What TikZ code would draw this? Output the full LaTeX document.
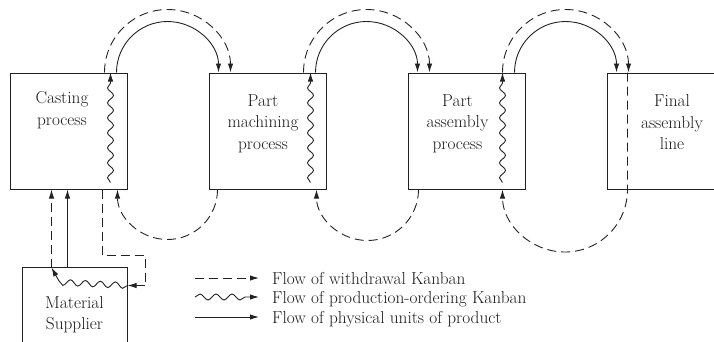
\documentclass[tikz,border=0pt]{standalone}
\usetikzlibrary{arrows.meta,decorations.pathmorphing,calc}
\definecolor{ink}{HTML}{222222}
\definecolor{txt}{HTML}{1A1A1A}
\begin{document}
\begin{tikzpicture}[x=1pt,y=-1pt,
  ln/.style={line width=0.9pt, draw=ink},
  box/.style={draw=ink, line width=1pt, inner sep=0pt, minimum width=117pt, minimum height=116pt},
  lbl/.style={inner sep=0pt, anchor=north, align=center, text=txt, font=\fontsize{17.3}{21.5}\selectfont},
  legtxt/.style={inner sep=0pt, anchor=base west, text=txt, font=\fontsize{17.3}{19.5}\selectfont},
  wd/.style={ln, dash pattern=on 9pt off 5pt},
  tip/.style={-{Latex[length=9pt,width=5.4pt]}},
  wave/.style={ln, decorate, decoration={snake, segment length=15pt, amplitude=3pt, post length=8pt}},
]
\clip (0,0) rectangle (714,341);
\useasboundingbox (0,0) rectangle (714,341);

% process boxes
\node[box] (cast) at (68.5,131) {};
\node[box] (mach) at (267.5,131) {};
\node[box] (asm)  at (466.5,131) {};
\node[box] (fin)  at (665.5,131) {};
\node[box, minimum width=105pt, minimum height=100pt] (sup) at (74.5,317) {};

% box labels
\node[lbl] (castT) at (62,91.5)  {Casting\\process};
\node[lbl] (machT) at (263,94)   {Part\\machining\\process};
\node[lbl] (asmT)  at (457.5,94) {Part\\assembly\\process};
\node[lbl] (finT)  at (672,94.5) {Final\\assembly\\line};
\node[lbl] (supT)  at (74.5,296) {Material\\Supplier};

% upper arcs: physical units (solid) and withdrawal Kanban (dashed)
\draw[ln, tip] ([xshift=-11pt]cast.north east) arc[start angle=180, end angle=360, radius=51];
\draw[wd, tip] ([xshift=-23pt]cast.north east) arc[start angle=180, end angle=360, radius=63];
\draw[ln, tip] ([xshift=-11pt]mach.north east) arc[start angle=180, end angle=360, radius=51];
\draw[wd, tip] ([xshift=-23pt]mach.north east) arc[start angle=180, end angle=360, radius=63];
\draw[ln, tip] ([xshift=-11pt]asm.north east) arc[start angle=180, end angle=360, radius=51];
\draw[wd, tip] ([xshift=-23pt]asm.north east) arc[start angle=180, end angle=360, radius=63];

% lower dashed arcs
\draw[wd, tip] ([xshift=9pt]mach.south west) arc[start angle=0, end angle=180, radius=50];
\draw[wd, tip] ([xshift=11pt]asm.south west) arc[start angle=0, end angle=180, radius=51];
\draw[wd, tip] ([xshift=21pt]fin.north west) -- ([xshift=21pt]fin.south west)
  arc[start angle=0, end angle=180, radius=62.5];

% production-ordering Kanban inside the boxes
\draw[wave, tip] ([shift={(-17,-7)}]cast.south east) -- ([xshift=-17pt]cast.north east);
\draw[wave, tip] ([shift={(-16,-7)}]mach.south east) -- ([xshift=-16pt]mach.north east);
\draw[wave, tip] ([shift={(-23,-7)}]asm.south east)  -- ([xshift=-23pt]asm.north east);

% supplier links
\coordinate (wtip) at ($(sup.north west)+(30,1)$);
\coordinate (kin)  at ($(sup.north east)+(0,19)$);
\coordinate (sfoot) at ($(sup.north west)+(46,0)$);
\draw[wd, tip] (wtip) -- (wtip |- cast.south);
\draw[ln, tip] (sfoot) -- (sfoot |- cast.south);
\draw[wd, tip] ([xshift=-25pt]cast.south east) -- ++(0,66) -- ++(43,0) |- (kin);
\draw[wave, tip, decoration={post length=10pt}] (kin) -- ($(wtip)+(14,15)$)
  .. controls ($(wtip)+(7,14)$) and ($(wtip)+(4,8)$) .. (wtip);

% legend
\node[legtxt] (l1) at (272,284)   {Flow of withdrawal Kanban};
\node[legtxt] (l2) at (272,303.5) {Flow of production-ordering Kanban};
\node[legtxt] (l3) at (272,323)   {Flow of physical units of product};
\coordinate (k1) at ($(l1.base west)+(-77,-6)$);
\coordinate (k2) at ($(l2.base west)+(-77,-6.5)$);
\coordinate (k3) at ($(l3.base west)+(-77,-6)$);
\draw[wd, tip] (k1) -- ($(l1.base west)+(-13,-6)$);
\draw[wave, tip, decoration={segment length=16pt}] (k2) -- ($(l2.base west)+(-13,-6.5)$);
\draw[ln, tip] (k3) -- ($(l3.base west)+(-13,-6)$);
\end{tikzpicture}
\end{document}
